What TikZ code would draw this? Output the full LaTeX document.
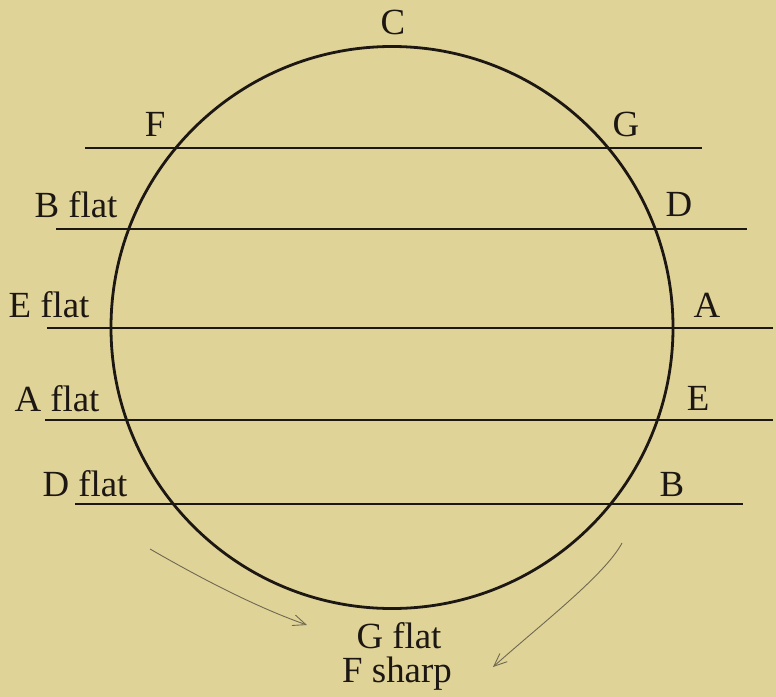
\documentclass[tikz,border=0pt]{standalone}
\usepackage{fontspec}
\setmainfont{Liberation Serif}
\usepackage{tikz}
\usetikzlibrary{arrows.meta}
\definecolor{paperTone}{HTML}{E0D398}
\definecolor{inkDark}{HTML}{1C1712}
\definecolor{pencilGray}{HTML}{6E6A52}
\tikzset{
  keylabel/.style={anchor=base, inner sep=0pt, font=\fontsize{37}{40}\selectfont, text=inkDark},
  keyline/.style={draw=inkDark, line width=1.4bp},
  turnarr/.style={draw=pencilGray, line width=0.9bp, -{Straight Barb[length=13bp, width=11bp]}},
}

\begin{document}
\begin{tikzpicture}[x=1bp, y=-1bp]
    \fill[paperTone] (0,0) rectangle (776,697);
    \node[circle, draw=inkDark, line width=2.8bp, minimum size=562bp, inner sep=0pt] (wheel) at (392,327.5) {};
    % the five lines across the circle
    \coordinate (l1a) at (85,148);  \coordinate (l1b) at (702,148);
    \coordinate (l2a) at (56,229);  \coordinate (l2b) at (747,229);
    \coordinate (l3a) at (47,328);  \coordinate (l3b) at (773,328);
    \coordinate (l4a) at (45,420);  \coordinate (l4b) at (773,420);
    \coordinate (l5a) at (75,504);  \coordinate (l5b) at (743,504);
    \foreach \k in {1,...,5}
      \draw[keyline] (l\k a) -- (l\k b);
    % keys
    \node[keylabel] (kC) at (393,35) {C};
    \node[keylabel] (kF) at (155,137) {F};
    \node[keylabel] (kG) at (626,137) {G};
    \node[keylabel] (kBb) at (76,217) {B flat};
    \node[keylabel] (kD) at (679,216) {D};
    \node[keylabel] (kEb) at (49,317) {E flat};
    \node[keylabel] (kA) at (707,317) {A};
    \node[keylabel] (kAb) at (57,411) {A flat};
    \node[keylabel] (kE) at (698,410) {E};
    \node[keylabel] (kDb) at (85,496) {D flat};
    \node[keylabel] (kB) at (672,496) {B};
    \node[keylabel] (kGb) at (399,648) {G flat};
    \node[keylabel] (kFs) at (397,682) {F sharp};
    % pencilled arrows
    \coordinate (ta) at (150,549); \coordinate (tb) at (307,625);
    \coordinate (ua) at (622,543); \coordinate (ub) at (493,667);
    \draw[turnarr] (ta) .. controls (190,572) and (250,605) .. (tb);
    \draw[turnarr] (ua) .. controls (605,575) and (540,625) .. (ub);
\end{tikzpicture}
\end{document}
